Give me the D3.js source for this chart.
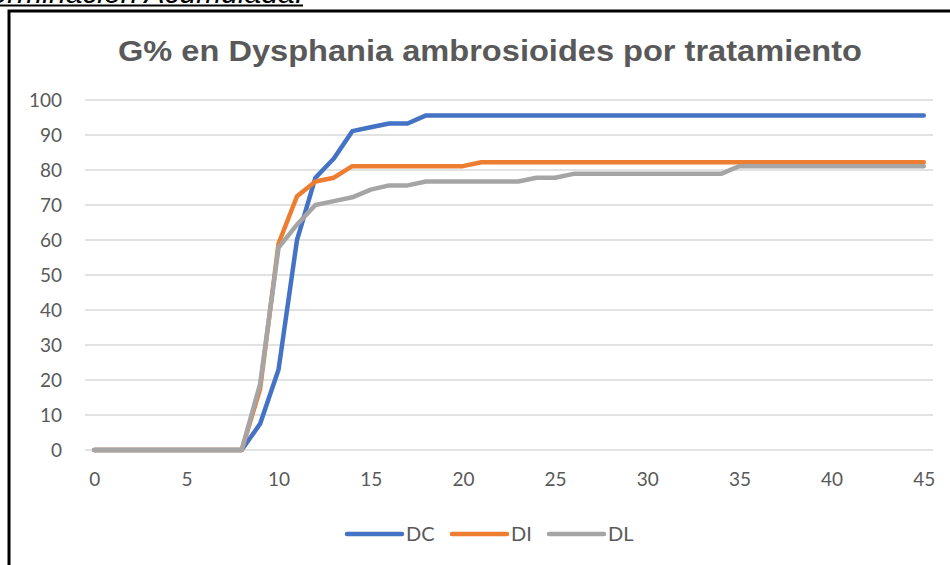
<!DOCTYPE html>
<html>
<head>
<meta charset="utf-8">
<style>
	body { margin: 0; background: #fff; }
	svg { display: block; }
</style>
</head>
<body>
<svg width="950" height="565"></svg>
<script src="https://d3js.org/d3.v7.min.js"></script>
<script>

// days after sowing (category axis)
var days = [0,1,2,3,4,5,6,7,8,9,10,11,12,13,14,15,16,17,18,19,20,21,22,23,24,25,26,27,28,29,30,31,32,33,34,35,36,37,38,39,40,41,42,43,44,45]

var DC = [0,0,0,0,0,0,0,0,0,7.5,23,60,77.8,83.3,91.1,92.2,93.3,93.3,
	95.6,95.6,95.6,95.6,95.6,95.6,95.6,95.6,95.6,95.6,95.6,95.6,95.6,95.6,95.6,95.6,
	95.6,95.6,95.6,95.6,95.6,95.6,95.6,95.6,95.6,95.6,95.6,95.6]

var DI = [0,0,0,0,0,0,0,0,0,17.5,59,72.5,76.7,77.8,81.1,81.1,81.1,81.1,81.1,81.1,81.1,
	82.2,82.2,82.2,82.2,82.2,82.2,82.2,82.2,82.2,82.2,82.2,82.2,82.2,82.2,82.2,82.2,
	82.2,82.2,82.2,82.2,82.2,82.2,82.2,82.2,82.2]

var DL = [0,0,0,0,0,0,0,0,0,18.9,57.8,64.4,70,71.1,72.2,74.4,75.6,75.6,
	76.7,76.7,76.7,76.7,76.7,76.7,77.8,77.8,78.9,78.9,78.9,78.9,78.9,78.9,78.9,78.9,78.9,
	81.1,81.1,81.1,81.1,81.1,81.1,81.1,81.1,81.1,81.1,81.1]

var seriesNames = ['DC','DI','DL']
var seriesColors = ['#4472C4','#ED7D31','#A5A5A5']
var yTicks = [0,10,20,30,40,50,60,70,80,90,100]
var xTickLabels = [0,5,10,15,20,25,30,35,40,45]

var series = [DC, DI, DL]

var svg = d3.select('svg')
var textGray = '#595959'

// heading of the page, cut off at the top like in the screenshot
svg.append('text')
	.attr('x', 303)
	.attr('y', 3)
	.attr('text-anchor', 'end')
	.style('font-family', 'Liberation Sans, Arial, sans-serif')
	.style('font-style', 'italic')
	.style('font-size', '30px')
	.style('fill', '#000')
	.text('Germinación Acumulada.')
svg.append('line')
	.attr('x1', 0).attr('x2', 303)
	.attr('y1', 5.5).attr('y2', 5.5)
	.style('stroke', '#000')
	.style('stroke-width', 2)

// chart frame (right and bottom edges fall outside the window)
svg.append('rect')
	.attr('x', 9).attr('y', 11)
	.attr('width', 960).attr('height', 580)
	.style('fill', '#fff')
	.style('stroke', '#000')
	.style('stroke-width', 3)

svg.append('text')
	.attr('x', 490)
	.attr('y', 61)
	.attr('text-anchor', 'middle')
	.attr('textLength', 744)
	.attr('lengthAdjust', 'spacingAndGlyphs')
	.style('font-family', 'Liberation Sans, Arial, sans-serif')
	.style('font-weight', 'bold')
	.style('font-size', '29px')
	.style('fill', textGray)
	.text('G% en Dysphania ambrosioides por tratamiento')

var x = d3.scalePoint()
	.domain(days)
	.range([85, 933])
	.padding(0.5)

var y = d3.scaleLinear()
	.domain([0, 100])
	.range([450, 100])

// gridlines
svg.append('g')
	.selectAll('line')
	.data(yTicks)
	.enter().append('line')
	.attr('x1', 85).attr('x2', 933)
	.attr('y1', d => y(d)).attr('y2', d => y(d))
	.style('stroke', '#D9D9D9')
	.style('stroke-width', 1.3)

var yAxis = svg.append('g')
	.attr('transform', 'translate(85,0)')
	.call(d3.axisLeft(y).tickValues(yTicks).tickSize(0).tickPadding(23))
yAxis.select('.domain').remove()

var xAxis = svg.append('g')
	.attr('transform', 'translate(0,450)')
	.call(d3.axisBottom(x).tickValues(xTickLabels).tickSize(0).tickPadding(23))
xAxis.select('.domain').remove()

svg.selectAll('.tick text')
	.style('font-family', 'Lato, Open Sans, sans-serif')
	.style('font-size', '19px')
	.style('fill', textGray)

var lineGenerator = d3.line()
	.x((d, i) => x(days[i]))
	.y(d => y(d))

series.forEach(function(s, i) {
	svg.append('path')
		.datum(s)
		.attr('d', lineGenerator)
		.style('fill', 'none')
		.style('stroke', seriesColors[i])
		.style('stroke-width', 4.5)
		.style('stroke-linejoin', 'round')
		.style('stroke-linecap', 'round')
})

// legend
var legendX = [347, 452, 549]
var legend = svg.append('g')
seriesNames.forEach(function(name, i) {
	legend.append('line')
		.attr('x1', legendX[i]).attr('x2', legendX[i] + 55)
		.attr('y1', 534).attr('y2', 534)
		.style('stroke', seriesColors[i])
		.style('stroke-width', 4.5)
		.style('stroke-linecap', 'round')
	legend.append('text')
		.attr('x', legendX[i] + 59)
		.attr('y', 541)
		.style('font-family', 'Lato, Open Sans, sans-serif')
		.style('font-size', '20px')
		.style('fill', textGray)
		.text(name)
})

</script>
</body>
</html>
